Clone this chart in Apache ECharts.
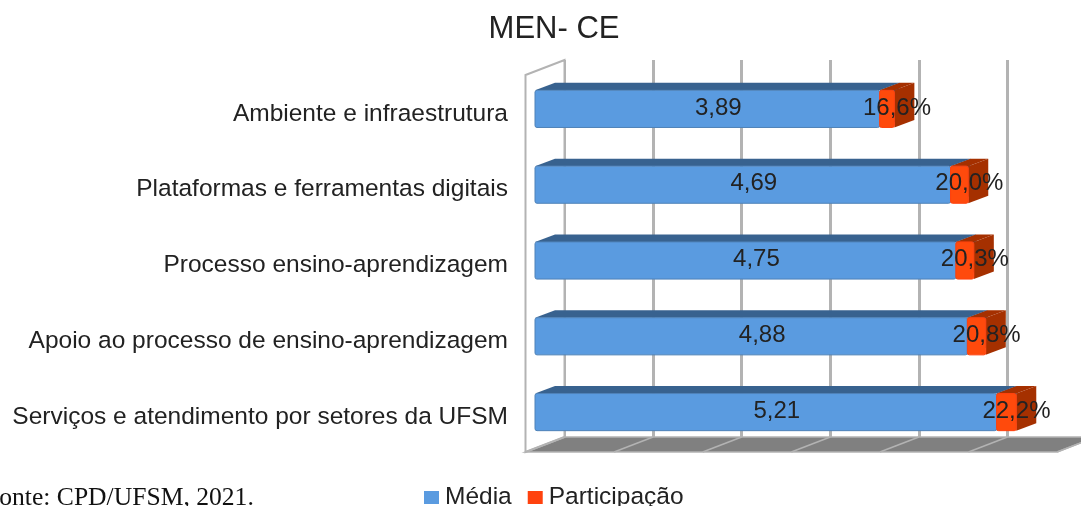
<!DOCTYPE html>
<html>
<head>
<meta charset="utf-8">
<style>
  html, body { margin: 0; padding: 0; background: #fff; overflow: hidden; }
  #chart { width: 1081px; height: 506px; }
</style>
</head>
<body>
<div id="chart"></div>
<script src="https://cdn.jsdelivr.net/npm/echarts@6/dist/echarts.min.js"></script>
<script>
const categories = [
  'Ambiente e infraestrutura',
  'Plataformas e ferramentas digitais',
  'Processo ensino-aprendizagem',
  'Apoio ao processo de ensino-aprendizagem',
  'Serviços e atendimento por setores da UFSM'
];
const media = [3.89, 4.69, 4.75, 4.88, 5.21];
const participacao = [16.6, 20.0, 20.3, 20.8, 22.2];
const axisTicks = [0, 1, 2, 3, 4, 5, 6];

const FONT = '"Liberation Sans", Arial, sans-serif';
// depth of the fake 3D, in pixels
const BAR_DX = 20, BAR_DY = 7.5;
const WALL_DX = 39, WALL_DY = 15;

const comma = (v, d) => v.toFixed(d).replace('.', ',');

function box(api, start, end, colors, label, labelDx) {
  const cat = api.value(0);
  const a = api.coord([start, cat]);
  const b = api.coord([end, cat]);
  const h = api.size([0, 1])[1] * 0.49;
  const x0 = a[0], x1 = b[0], y0 = a[1] - h / 2, y1 = a[1] + h / 2;
  return {
    type: 'group',
    children: [
      // top face
      { type: 'polygon', shape: { points: [[x0, y0], [x0 + BAR_DX, y0 - BAR_DY], [x1 + BAR_DX, y0 - BAR_DY], [x1, y0]] },
        style: { fill: colors.top } },
      // right face
      { type: 'polygon', shape: { points: [[x1, y0], [x1 + BAR_DX, y0 - BAR_DY], [x1 + BAR_DX, y1 - BAR_DY], [x1, y1]] },
        style: { fill: colors.top } },
      // front face
      { type: 'rect', shape: { x: x0, y: y0, width: x1 - x0, height: y1 - y0, r: 2 },
        style: { fill: colors.front, stroke: colors.edge, lineWidth: 1 } },
      { type: 'text', z2: 10, style: { x: (x0 + x1) / 2 + labelDx, y: a[1] - 1, text: label, fill: '#222',
          font: '24px ' + FONT, align: 'center', verticalAlign: 'middle' } }
    ]
  };
}

const option = {
  animation: false,
  backgroundColor: '#fff',
  title: {
    text: 'MEN- CE', left: 549, top: 9, textAlign: 'center',
    textStyle: { fontFamily: FONT, fontSize: 31, fontWeight: 'normal', color: '#222' }
  },
  legend: {
    data: ['Média', 'Participação'],
    left: 419, top: 480,
    icon: 'rect', itemWidth: 15, itemHeight: 13, itemGap: 16,
    textStyle: { fontFamily: FONT, fontSize: 24.5, color: '#222', padding: [0, 0, 0, 1] }
  },
  graphic: [{
    type: 'text', left: -15, top: 485,
    style: { text: 'Fonte: CPD/UFSM, 2021.', font: '25.6px "Liberation Serif", serif', fill: '#111' }
  }],
  grid: [
    { left: 535, top: 71, width: 531.6, height: 379 }, // bars, front plane
    { left: 564.5, top: 60, width: 443, height: 377 }  // back wall
  ],
  xAxis: [
    { gridIndex: 0, type: 'value', min: 0, max: 6, show: false },
    { gridIndex: 1, type: 'value', min: 0, max: 5, interval: 1,
      axisLine: { show: false }, axisTick: { show: false }, axisLabel: { show: false },
      splitLine: { show: true, lineStyle: { color: '#b3b3b3', width: 3 } } }
  ],
  yAxis: [
    { gridIndex: 0, type: 'category', data: categories, inverse: true,
      axisLine: { show: false }, axisTick: { show: false },
      axisLabel: {
        margin: 27,
        formatter: (v) => '{t|' + v + '}',
        rich: { t: { padding: [10, 0, 0, 0], fontFamily: FONT, fontSize: 24.5, color: '#222' } }
      } },
    { gridIndex: 1, type: 'value', min: 0, max: 1, show: false }
  ],
  series: [
    { // floor and left wall
      type: 'custom', xAxisIndex: 1, yAxisIndex: 1, z: 1, silent: true,
      data: [[axisTicks[0], axisTicks[axisTicks.length - 1]]],
      renderItem: function (params, api) {
        const l = api.coord([api.value(0), 0]);
        const r = api.coord([api.value(1), 0]);
        const t = api.coord([api.value(0), 1]);
        const front = (p) => [p[0] - WALL_DX, p[1] + WALL_DY];
        return {
          type: 'group',
          children: [
            { type: 'polygon', shape: { points: [l, r, front(r), front(l)] },
              style: { fill: '#808080', stroke: '#b3b3b3', lineWidth: 1.5 } },
            { type: 'polygon', shape: { points: [t, l, front(l), front(t)] },
              style: { fill: '#fff', stroke: '#b3b3b3', lineWidth: 2 } }
          ]
        };
      }
    },
    { // floor grid lines
      type: 'custom', xAxisIndex: 1, yAxisIndex: 1, z: 2, silent: true,
      data: axisTicks.map(v => [v]),
      renderItem: function (params, api) {
        const p = api.coord([api.value(0), 0]);
        return { type: 'line', shape: { x1: p[0], y1: p[1], x2: p[0] - WALL_DX, y2: p[1] + WALL_DY },
          style: { stroke: '#b3b3b3', lineWidth: 1.5 } };
      }
    },
    {
      name: 'Média', type: 'custom', z: 3,
      itemStyle: { color: '#5a9be0' },
      data: media.map((v, i) => [i, v]),
      renderItem: function (params, api) {
        const v = api.value(1);
        return box(api, 0, v, { front: '#5a9be0', top: '#38628f', edge: '#4f82b8' }, comma(v, 2), 11);
      }
    },
    {
      name: 'Participação', type: 'custom', z: 4,
      itemStyle: { color: '#ff420e' },
      data: participacao.map((v, i) => [i, media[i], v]),
      renderItem: function (params, api) {
        const s = api.value(1), v = api.value(2);
        return box(api, s, s + v / 100, { front: '#ff4a0c', top: '#a53000', edge: '#ff420e' }, comma(v, 1) + '%', 10);
      }
    }
  ]
};

const myChart = echarts.init(document.getElementById('chart'));
myChart.setOption(option);
</script>
</body>
</html>
